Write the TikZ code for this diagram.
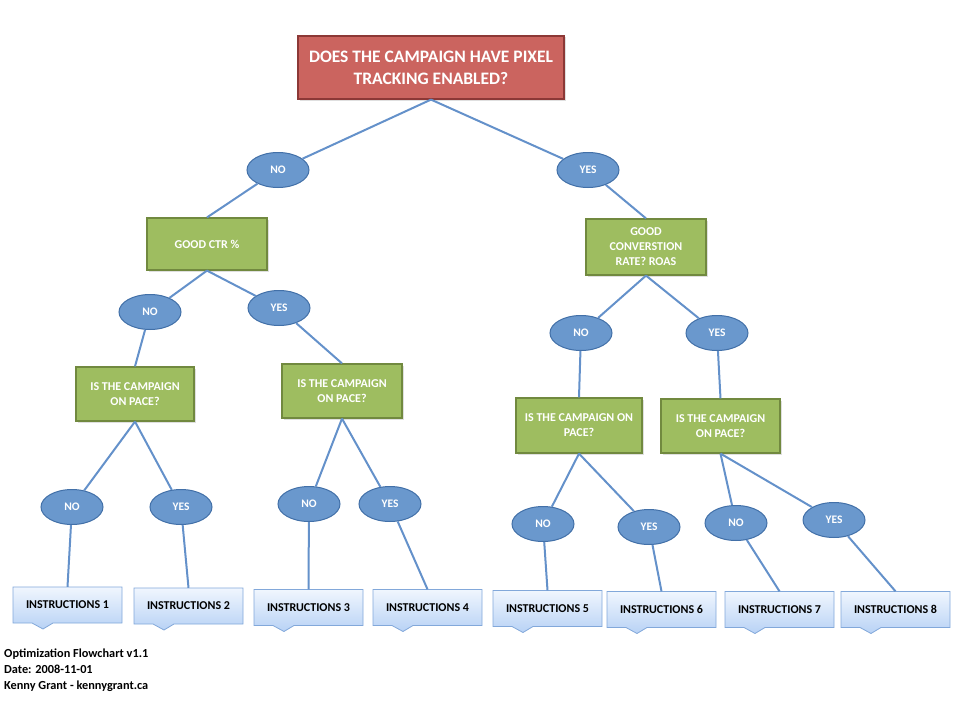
\documentclass[tikz,border=0pt]{standalone}
\usepackage{fontspec}
\setmainfont{Carlito}
\usepackage{tikz}
\usetikzlibrary{shapes,shadows}

\definecolor{askfill}{RGB}{203,100,95}
\definecolor{askline}{RGB}{140,56,54}
\definecolor{checkfill}{RGB}{158,189,96}
\definecolor{checkline}{RGB}{113,137,63}
\definecolor{answerfill}{RGB}{106,152,205}
\definecolor{answerline}{RGB}{66,112,168}
\definecolor{linkcol}{RGB}{100,145,202}
\definecolor{steptop}{RGB}{240,246,254}
\definecolor{stepbottom}{RGB}{184,210,245}
\definecolor{stepline}{RGB}{130,168,218}

\tikzset{
  askbox/.style={draw=askline, fill=askfill, line width=1.2pt, text=white, align=center,
    minimum width=266, minimum height=63, font=\bfseries\fontsize{17.5}{22}\selectfont,
    drop shadow={opacity=0.25, shadow xshift=1.5pt, shadow yshift=-1.5pt}},
  checkbox/.style={draw=checkline, fill=checkfill, line width=1.2pt, text=white, align=center,
    inner sep=2pt, font=\bfseries\fontsize{12}{15}\selectfont,
    drop shadow={opacity=0.25, shadow xshift=1.5pt, shadow yshift=-1.5pt}},
  answer/.style={ellipse, draw=answerline, fill=answerfill, line width=1pt, text=white,
    minimum width=62, minimum height=35, inner sep=0pt, font=\bfseries\fontsize{11.5}{13}\selectfont},
  stepnote/.style={minimum width=109, minimum height=36, inner sep=0pt,
    font=\bfseries\fontsize{12}{13}\selectfont},
  stepshape/.style={draw=stepline, line width=0.8pt, top color=steptop, bottom color=stepbottom},
  link/.style={draw=linkcol, line width=2pt}
}

\begin{document}
\begin{tikzpicture}[x=1pt, y=-1pt]
\useasboundingbox (0,0) rectangle (956,701);

% question
\node (pixel) [askbox] at (431,67.5) {DOES THE CAMPAIGN HAVE PIXEL\\TRACKING ENABLED?};

\node (no) [answer] at (278,170) {NO};
\node (yes) [answer] at (588,170) {YES};

\node (ctr) [checkbox, minimum width=120, minimum height=52] at (207,244) {GOOD CTR \%};
\node (conv) [checkbox, minimum width=120, minimum height=56] at (646,247) {GOOD\\CONVERSTION\\RATE? ROAS};

\node (ctrno) [answer] at (150,312) {NO};
\node (ctryes) [answer] at (279,308) {YES};
\node (convno) [answer] at (581,333) {NO};
\node (convyes) [answer] at (717,333) {YES};

\node (pace1) [checkbox, minimum width=118, minimum height=54] at (135,394) {IS THE CAMPAIGN\\ON PACE?};
\node (pace2) [checkbox, minimum width=120, minimum height=54] at (342,391) {IS THE CAMPAIGN\\ON PACE?};
\node (pace3) [checkbox, minimum width=126, minimum height=55] at (579,425.5) {IS THE CAMPAIGN ON\\PACE?};
\node (pace4) [checkbox, minimum width=119, minimum height=54] at (720.5,426) {IS THE CAMPAIGN\\ON PACE?};

\node (no1) [answer] at (72,507) {NO};
\node (yes1) [answer] at (181,507) {YES};
\node (no2) [answer] at (309,504) {NO};
\node (yes2) [answer] at (390,504) {YES};
\node (no3) [answer] at (543,524) {NO};
\node (yes3) [answer] at (649,527) {YES};
\node (no4) [answer] at (736,523) {NO};
\node (yes4) [answer] at (834,520) {YES};

% instruction callouts
\foreach \x/\y/\n in {67.5/605/1, 188.5/606/2, 308.5/607.5/3, 427.5/607.5/4,
                      547.5/608.5/5, 661.5/609.5/6, 779.5/609.5/7, 895.5/609.5/8} {
  \shade[stepshape] (\x-54.5,\y-18) -- (\x+54.5,\y-18) -- (\x+54.5,\y+18)
    -- (\x-14.5,\y+18) -- (\x-24.5,\y+24) -- (\x-35.5,\y+18) -- (\x-54.5,\y+18) -- cycle;
  \node (step\n) [stepnote] at (\x,\y) {INSTRUCTIONS \n};
}

% connectors
\draw[link] (pixel.south) -- (no);
\draw[link] (pixel.south) -- (yes);
\draw[link] (no) -- (ctr.north);
\draw[link] (yes) -- (conv.north);
\draw[link] (ctr.south) -- (ctrno);
\draw[link] (ctr.south) -- (ctryes);
\draw[link] (conv.south) -- (convno);
\draw[link] (conv.south) -- (convyes);
\draw[link] (ctrno) -- (pace1.north);
\draw[link] (ctryes) -- (pace2.north);
\draw[link] (convno) -- (pace3.north);
\draw[link] (convyes) -- (pace4.north);
\draw[link] (pace1.south) -- (no1);
\draw[link] (pace1.south) -- (yes1);
\draw[link] (pace2.south) -- (no2);
\draw[link] (pace2.south) -- (yes2);
\draw[link] (pace3.south) -- (no3);
\draw[link] (pace3.south) -- (yes3);
\draw[link] (pace4.south) -- (no4);
\draw[link] (pace4.south) -- (yes4);
\draw[link] (no1) -- (step1.north);
\draw[link] (yes1) -- (step2.north);
\draw[link] (no2) -- (step3.north);
\draw[link] (yes2) -- (step4.north);
\draw[link] (no3) -- (step5.north);
\draw[link] (yes3) -- (step6.north);
\draw[link] (no4) -- (step7.north);
\draw[link] (yes4) -- (step8.north);

% footer
\node (credits) [anchor=north west, align=left, inner sep=0pt,
  font=\bfseries\fontsize{12.3}{16}\selectfont] at (4,649)
  {Optimization Flowchart v1.1\\Date: 2008-11-01\\Kenny Grant - kennygrant.ca};
\end{tikzpicture}
\end{document}
